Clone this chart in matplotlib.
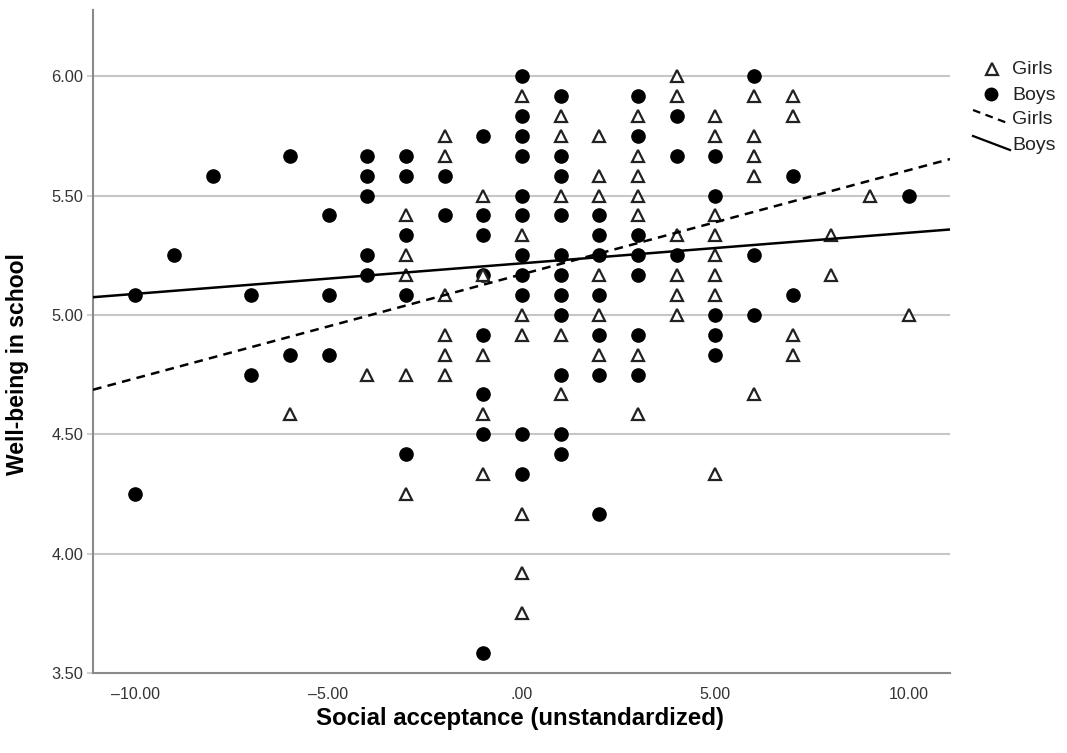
import numpy as np
import matplotlib
matplotlib.use('Agg')
import matplotlib.pyplot as plt
from matplotlib.lines import Line2D

plt.rcParams['font.family'] = ['Liberation Sans', 'DejaVu Sans']

# scores per social acceptance value (x)
boys = {
    -10: [5.083, 4.25],
    -9: [5.25],
    -8: [5.583],
    -7: [5.083, 4.75],
    -6: [5.667, 4.833],
    -5: [5.417, 5.083, 4.833],
    -4: [5.667, 5.583, 5.5, 5.25, 5.167],
    -3: [5.667, 5.583, 5.333, 5.083, 4.417],
    -2: [5.583, 5.417],
    -1: [5.75, 5.417, 5.333, 5.167, 4.917, 4.667, 4.5, 3.583],
    0: [6.0, 5.833, 5.75, 5.667, 5.5, 5.417, 5.25, 5.167, 5.083, 4.5, 4.333],
    1: [5.917, 5.667, 5.583, 5.417, 5.25, 5.167, 5.083, 5.0, 4.75, 4.5, 4.417],
    2: [5.417, 5.333, 5.25, 5.083, 4.917, 4.75, 4.167],
    3: [5.917, 5.75, 5.333, 5.25, 5.167, 4.917, 4.75],
    4: [5.833, 5.667, 5.25],
    5: [5.667, 5.5, 5.0, 4.917, 4.833],
    6: [6.0, 5.25, 5.0],
    7: [5.583, 5.083],
    10: [5.5],
}
girls = {
    -6: [4.583],
    -4: [4.75],
    -3: [5.417, 5.25, 5.167, 4.75, 4.25],
    -2: [5.75, 5.667, 5.083, 4.917, 4.833, 4.75],
    -1: [5.5, 5.167, 4.833, 4.583, 4.333],
    0: [5.917, 5.333, 5.0, 4.917, 4.167, 3.917, 3.75],
    1: [5.833, 5.75, 5.5, 4.917, 4.667],
    2: [5.75, 5.583, 5.5, 5.167, 5.0, 4.833],
    3: [5.833, 5.667, 5.583, 5.5, 5.417, 4.833, 4.583],
    4: [6.0, 5.917, 5.333, 5.167, 5.083, 5.0],
    5: [5.833, 5.75, 5.417, 5.333, 5.25, 5.167, 5.083, 4.333],
    6: [5.917, 5.75, 5.667, 5.583, 4.667],
    7: [5.917, 5.833, 4.917, 4.833],
    8: [5.333, 5.167],
    9: [5.5],
    10: [5.0],
}

# fit lines (intercept, slope)
boys_fit = (5.216, 0.0128)
girls_fit = (5.170, 0.0436)

x_ticks = [-10, -5, 0, 5, 10]
x_tick_labels = ['\u201310.00', '\u20135.00', '.00', '5.00', '10.00']
y_ticks = [3.5, 4.0, 4.5, 5.0, 5.5, 6.0]
y_tick_labels = ['3.50', '4.00', '4.50', '5.00', '5.50', '6.00']


def flatten(d):
    xs, ys = [], []
    for k, vals in d.items():
        xs += [k] * len(vals)
        ys += vals
    return np.array(xs), np.array(ys)


W, H = 1067, 753
fig = plt.figure(figsize=(W / 100, H / 100), dpi=100)
ax = fig.add_axes([93 / W, 1 - 673 / H, (950 - 93) / W, (673 - 10) / H])

xlim = (-11.09, 11.07)
ax.set_xlim(*xlim)
ax.set_ylim(3.5, 6.277)

for yv in y_ticks[1:]:
    ax.axhline(yv, color='#c6c6c6', lw=1.5, zorder=0)

bx, by = flatten(boys)
gx, gy = flatten(girls)
ax.plot(bx, by, 'o', ms=9.5, color='black', mec='black', zorder=3)
ax.plot(gx, gy, '^', ms=8, mfc='white', mec='#222222', mew=1.6, zorder=4)

xl = np.array(xlim)
ax.plot(xl, girls_fit[0] + girls_fit[1] * xl, color='black', lw=1.8,
        ls=(0, (3.5, 2.5)), zorder=5)
ax.plot(xl, boys_fit[0] + boys_fit[1] * xl, color='black', lw=1.8, zorder=5)

for s in ['top', 'right']:
    ax.spines[s].set_visible(False)
for s in ['left', 'bottom']:
    ax.spines[s].set_color('#8a8a8a')
    ax.spines[s].set_linewidth(1.5)

ax.set_xticks(x_ticks)
ax.set_xticklabels(x_tick_labels)
ax.set_yticks(y_ticks)
ax.set_yticklabels(y_tick_labels)
ax.tick_params(axis='x', length=0, pad=10, labelsize=11.5, labelcolor='#333333')
ax.tick_params(axis='y', length=4, width=1.2, color='#c6c6c6', pad=3,
               labelsize=11.8, labelcolor='#333333')

ax.set_xlabel('Social acceptance (unstandardized)', fontsize=17.3,
              fontweight='bold')
ax.set_ylabel('Well-being in school', fontsize=16.5, fontweight='bold')
ax.xaxis.set_label_coords(0.4985, -0.051)
ax.yaxis.set_label_coords(-0.075, 0.466)

# legend, SPSS style
def px(x, y):
    return x / W, 1 - y / H

fig.add_artist(Line2D(*zip(px(992, 69)), marker='^', ms=8, mfc='white',
                      mec='#222222', mew=1.6, ls='none'))
fig.add_artist(Line2D(*zip(px(991, 94)), marker='o', ms=9, color='black',
                      ls='none'))
(a0, b0), (a1, b1) = px(973, 110), px(1010, 124)
fig.add_artist(Line2D([a0, a1], [b0, b1], color='black', lw=1.6,
                      ls=(0, (3.5, 2.5))))
(a0, b0), (a1, b1) = px(973, 136), px(1010, 150)
fig.add_artist(Line2D([a0, a1], [b0, b1], color='black', lw=1.6))
for yy, lab in [(70, 'Girls'), (95, 'Boys'), (120, 'Girls'), (146, 'Boys')]:
    fig.text(*px(1012, yy), lab, fontsize=14, va='center', ha='left',
             color='#222222')

fig.savefig('out.png', dpi=100)
